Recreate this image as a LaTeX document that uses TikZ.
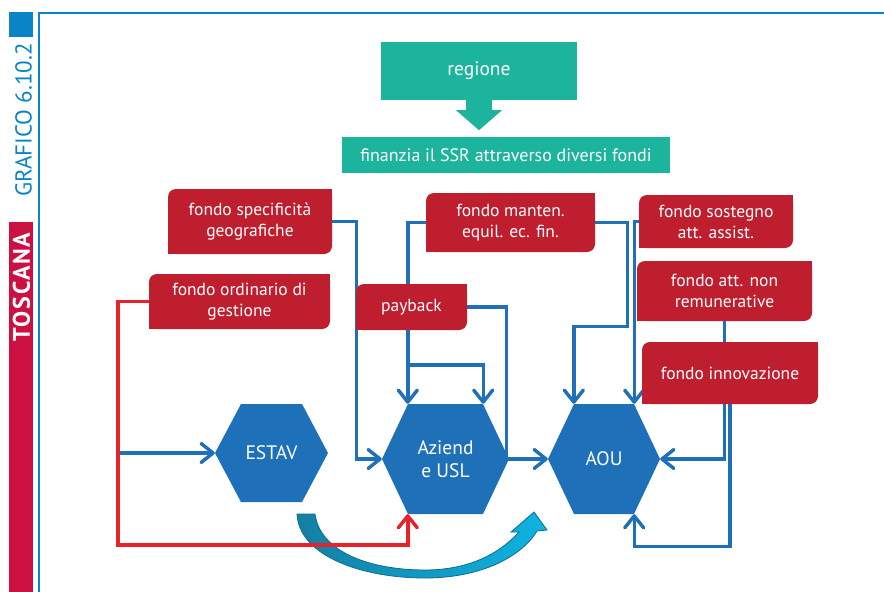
\documentclass[tikz,border=0pt]{standalone}
\usepackage{fontspec}
\setmainfont{PT Sans}
\usetikzlibrary{arrows.meta,calc,backgrounds}
\definecolor{framblue}{HTML}{0A84C8}
\definecolor{tosred}{HTML}{CC1041}
\definecolor{tealbox}{HTML}{1DB49E}
\definecolor{fundred}{HTML}{BE1E2D}
\definecolor{hexblue}{HTML}{1E71B8}
\definecolor{linkblue}{HTML}{1F70B9}
\definecolor{linkred}{HTML}{E8222A}
\definecolor{swdark}{HTML}{137FA4}
\definecolor{swlight}{HTML}{0FB3E2}
\definecolor{swedge}{HTML}{0B6E8E}
\begin{document}
\begin{tikzpicture}[x=1pt,y=-1pt,
  tealnode/.style={fill=tealbox, text=white, inner sep=0pt, font=\fontsize{19.5}{22}\selectfont},
  fund/.style={fill=fundred, rounded corners=8pt, text=white, align=center, inner sep=0pt,
    font=\fontsize{17.5}{21}\selectfont},
  hexa/.style={inner sep=0pt, text=white, align=center, font=\fontsize{19.5}{23}\selectfont,
    path picture={\fill[hexblue] (path picture bounding box.west)
      -- ([xshift=26pt]path picture bounding box.north west)
      -- ([xshift=-26pt]path picture bounding box.north east)
      -- (path picture bounding box.east)
      -- ([xshift=-26pt]path picture bounding box.south east)
      -- ([xshift=26pt]path picture bounding box.south west) -- cycle;}},
  link/.style={line width=3.4pt, draw=linkblue,
    -{Straight Barb[length=12pt,width=19pt,line width=3.4pt,round]}},
  redlink/.style={link, draw=linkred}]
\useasboundingbox (0,0) rectangle (884,592);

% side frame and titles
\fill[framblue] (9,12) rectangle (33,37);
\draw[framblue, line width=1.6pt] (39,592) -- (39,13) -- (884,13);
\node[rotate=90, text=framblue, inner sep=0pt, font=\fontsize{23}{25}\selectfont] (graf) at (23.5,120) {GRAFICO 6.10.2};
\fill[tosred] (9,222) rectangle (33,592);
\node[rotate=90, text=white, inner sep=0pt, font=\fontsize{24}{26}\selectfont\bfseries\addfontfeatures{LetterSpace=7}] (tos) at (21.5,287) {TOSCANA};

% top: regione and its arrow
\node[tealnode, minimum width=196pt, minimum height=58pt] (reg) at (479,71) {regione};
\fill[tealbox] (reg.south) ++(-13pt,0) -- ++(0,-10pt) -- ++(-10pt,0) -- ($(reg.south)+(0,-30pt)$)
  -- ($(reg.south)+(23pt,-10pt)$) -- ++(-10pt,0) -- ++(0,10pt) -- cycle;
\node[tealnode, minimum width=328pt, minimum height=36pt, font=\fontsize{18}{21}\selectfont] (fin) at (506,155) {finanzia il SSR attraverso diversi fondi};

% funds
\node[fund, minimum width=164pt, minimum height=65pt] (spec) at (250,221.5) {fondo specificità\\geografiche};
\node[fund, minimum width=181pt, minimum height=55pt] (ord) at (239.5,301.5) {fondo ordinario di\\gestione};
\node[fund, minimum width=169pt, minimum height=59pt] (manten) at (510.5,222.5) {fondo manten.\\equil. ec. fin.};
\node[fund, minimum width=111pt, minimum height=46pt] (payback) at (411.5,307) {payback};
\node[fund, minimum width=154pt, minimum height=53pt] (sost) at (716,221.5) {fondo sostegno\\att. assist.};
\node[fund, minimum width=175pt, minimum height=60pt] (nonrem) at (724.5,291) {fondo att. non\\remunerative};
\node[fund, minimum width=176pt, minimum height=62pt] (innov) at (730,373) {fondo innovazione};
\foreach \b in {spec,ord,manten,payback,sost,nonrem,innov}{
  \fill[fundred] (\b.north east) rectangle ++(-10pt,-10pt);
  \fill[fundred] (\b.south west) rectangle ++(10pt,10pt);
}

% bodies
\node[hexa, minimum width=113pt, minimum height=98pt] (estav) at (271.5,453) {ESTAV};
\node[hexa, minimum width=127pt, minimum height=110pt] (usl) at (445.5,459) {Aziend\\e USL};
\node[hexa, minimum width=112pt, minimum height=110pt] (aou) at (604,459) {AOU};
\coordinate (uslTL) at ([xshift=26pt]usl.north west);
\coordinate (uslTR) at ([xshift=-26pt]usl.north east);
\coordinate (uslBL) at ([xshift=26pt]usl.south west);
\coordinate (aouTL) at ([xshift=26pt]aou.north west);
\coordinate (aouTR) at ([xshift=-26pt]aou.north east);
\coordinate (aouBR) at ([xshift=-26pt]aou.south east);
\coordinate (redx) at (118,545);

\begin{scope}[on background layer]
  \fill[white] (0,0) rectangle (884,592);
  % transfer from ESTAV to AOU
  \draw[swedge, line width=0.8pt, left color=swdark, right color=swlight]
    (315,514) -- (297,514) .. controls (299,556) and (362,578) .. (425,578)
    .. controls (482,578) and (522,556) .. (537,531) -- (547,530) -- (534,512) -- (511,532) -- (519,532)
    .. controls (500,553) and (470,570) .. (425,570)
    .. controls (370,570) and (320,552) .. (315,514) -- cycle;
  % flows
  \draw[link] (redx |- estav.west) -- (estav.west);
  \draw[redlink] (ord.west) -| (redx) -| (uslBL);
  \draw[link] (spec.east) -- ++(24pt,0) |- (usl.west);
  \draw[link] (manten.west) -| (uslTL);
  \draw[link] (uslTL |- 0,365) -| (uslTR);
  \draw[link] (payback.east) -- ++(39pt,0) |- (aou.west);
  \draw[link] (manten.east) -- ++(32pt,0) -- ++(0,104) -| (aouTL);
  \draw[link] (sost.west) -| (aouTR);
  \draw[link] (nonrem.south) |- (aou.east);
  \draw[link] (innov.south) -- ++(0,142) -| (aouBR);
\end{scope}
\end{tikzpicture}
\end{document}
